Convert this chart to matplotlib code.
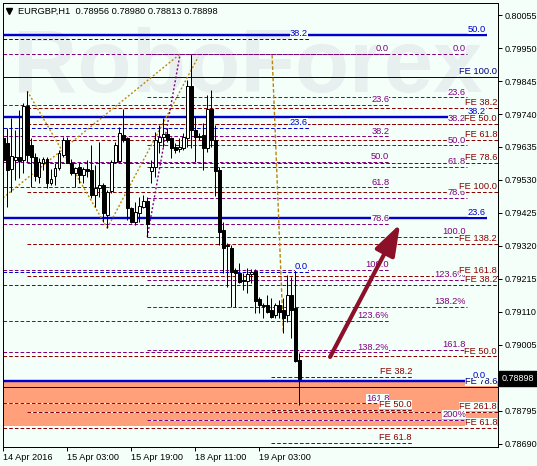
import numpy as np
import matplotlib
matplotlib.use('Agg')
import matplotlib.pyplot as plt
from matplotlib.transforms import blended_transform_factory

plt.rcParams['font.family'] = ['Liberation Sans', 'DejaVu Sans']
plt.rcParams['lines.scale_dashes'] = False

######### EURGBP H1 bars
opens = [0.79664, 0.79648, 0.79565, 0.79594, 0.79603, 0.79594, 0.79765, 0.79641, 0.79603, 0.79540,
         0.79584, 0.79597, 0.79520, 0.79543, 0.79568, 0.79610, 0.79657, 0.79584, 0.79552, 0.79571,
         0.79546, 0.79565, 0.79562, 0.79482, 0.79505, 0.79514, 0.79419, 0.79495, 0.79587, 0.79590,
         0.79673, 0.79664, 0.79441, 0.79396, 0.79425, 0.79444, 0.79463, 0.79559, 0.79571, 0.79651,
         0.79667, 0.79676, 0.79664, 0.79635, 0.79629, 0.79632, 0.79664, 0.79829, 0.79689, 0.79670,
         0.79673, 0.79632, 0.79756, 0.79657, 0.79562, 0.79371, 0.79323, 0.79314, 0.79244, 0.79234,
         0.79212, 0.79209, 0.79231, 0.79240, 0.79151, 0.79132, 0.79132, 0.79116, 0.79100, 0.79132,
         0.79116, 0.79100, 0.79164, 0.79123, 0.78956]
highs = [0.79673, 0.79695, 0.79727, 0.79689, 0.79753, 0.79775, 0.79813, 0.79664, 0.79616, 0.79600,
         0.79603, 0.79603, 0.79565, 0.79584, 0.79625, 0.79667, 0.79667, 0.79597, 0.79571, 0.79584,
         0.79571, 0.79594, 0.79641, 0.79578, 0.79651, 0.79520, 0.79498, 0.79594, 0.79651, 0.79699,
         0.79756, 0.79667, 0.79444, 0.79460, 0.79476, 0.79482, 0.79476, 0.79594, 0.79683, 0.79705,
         0.79727, 0.79695, 0.79667, 0.79648, 0.79664, 0.79680, 0.79848, 0.79931, 0.79730, 0.79680,
         0.79711, 0.79800, 0.79816, 0.79705, 0.79571, 0.79396, 0.79330, 0.79323, 0.79250, 0.79266,
         0.79234, 0.79250, 0.79247, 0.79247, 0.79158, 0.79139, 0.79164, 0.79155, 0.79139, 0.79148,
         0.79155, 0.79228, 0.79221, 0.79244, 0.78980]
lows = [0.79578, 0.79444, 0.79492, 0.79530, 0.79536, 0.79552, 0.79587, 0.79508, 0.79527, 0.79520,
        0.79562, 0.79505, 0.79514, 0.79514, 0.79562, 0.79603, 0.79584, 0.79546, 0.79508, 0.79520,
        0.79520, 0.79540, 0.79473, 0.79444, 0.79476, 0.79396, 0.79377, 0.79489, 0.79584, 0.79587,
        0.79651, 0.79403, 0.79393, 0.79387, 0.79396, 0.79441, 0.79349, 0.79520, 0.79540, 0.79616,
        0.79635, 0.79651, 0.79600, 0.79616, 0.79619, 0.79625, 0.79635, 0.79632, 0.79587, 0.79657,
        0.79562, 0.79619, 0.79635, 0.79479, 0.79323, 0.79234, 0.79190, 0.79126, 0.79126, 0.79202,
        0.79180, 0.79170, 0.79202, 0.79107, 0.79107, 0.79091, 0.79107, 0.79091, 0.79091, 0.79091,
        0.79043, 0.79078, 0.79027, 0.78951, 0.78813]
closes = [0.79594, 0.79562, 0.79606, 0.79603, 0.79590, 0.79765, 0.79610, 0.79603, 0.79543, 0.79587,
          0.79597, 0.79520, 0.79533, 0.79568, 0.79616, 0.79657, 0.79584, 0.79552, 0.79568, 0.79546,
          0.79565, 0.79559, 0.79482, 0.79505, 0.79514, 0.79425, 0.79492, 0.79587, 0.79641, 0.79680,
          0.79657, 0.79441, 0.79396, 0.79428, 0.79447, 0.79463, 0.79390, 0.79571, 0.79657, 0.79667,
          0.79676, 0.79657, 0.79632, 0.79625, 0.79635, 0.79667, 0.79829, 0.79689, 0.79667, 0.79667,
          0.79632, 0.79756, 0.79657, 0.79559, 0.79365, 0.79314, 0.79320, 0.79237, 0.79234, 0.79205,
          0.79209, 0.79231, 0.79237, 0.79145, 0.79132, 0.79129, 0.79110, 0.79094, 0.79132, 0.79110,
          0.79091, 0.79164, 0.79116, 0.78954, 0.78898]

time_tick_bars = [0, 16, 32, 48, 64]
time_tick_labels = ['14 Apr 2016', '15 Apr 03:00', '15 Apr 19:00', '18 Apr 11:00', '19 Apr 03:00']
price_ticks = [0.80055, 0.79950, 0.79845, 0.79740, 0.79635, 0.79530, 0.79425,
               0.79320, 0.79215, 0.79110, 0.79005, 0.78795, 0.78690]
last_price = 0.78898
title = 'EURGBP,H1  0.78956 0.78980 0.78813 0.78898'

######### Fibonacci tools: price at 0% and at 100%, levels shown
fib_ratios = [0.0, 23.6, 38.2, 50.0, 61.8, 78.6, 100.0, 123.6, 138.2, 161.8, 200.0]
fib_text = ['0.0', '23.6', '38.2', '50.0', '61.8', '78.6', '100.0', '123.6%', '138.2%', '161.8', '200%']

blue_thick_p0, blue_thick_p100 = 0.78890, 0.81093
blue_thick_ratios = [0.0, 23.6, 38.2, 50.0]
blue_dash_p0, blue_dash_p100 = 0.79237, 0.81178
blue_dash_ratios = [0.0, 23.6, 38.2]
purple_a_p0, purple_a_p100 = 0.79931, 0.79244
purple_a_ratios = [0.0, 23.6, 38.2, 50.0, 61.8, 78.6, 100.0, 123.6, 138.2, 161.8]
purple_b_p0, purple_b_p100 = 0.79931, 0.79349
purple_b_ratios = [0.0, 23.6, 38.2, 50.0, 61.8, 78.6, 100.0, 123.6, 138.2, 161.8, 200.0]

fe_c_p0, fe_c_p100 = 0.79925, 0.79492
fe_c_ratios = [38.2, 50.0, 61.8, 78.6, 100.0, 138.2, 161.8, 261.8]
fe_d_p0, fe_d_p100 = 0.79244, 0.78353
fe_d_ratios = [38.2, 50.0, 61.8]
fe_e_p0, fe_e_p100 = 0.79933, 0.78004
fe_e_ratios = [38.2, 50.0, 61.8]
navy_prices = [0.79858, 0.78871]
navy_text = ['FE 100.0', 'FE 78.6']

zone_top, zone_bottom = 0.78890, 0.78747

gold_dotted = [[(-0.075, 0.79473), (44.2, 0.79931)],
               [(6, 0.79813), (26, 0.79377)],
               [(26, 0.79377), (48.7, 0.79921)]]
gold_dashed = [(67.2, 0.79928), (70, 0.79043)]
purple_trend = [(36, 0.79349), (44.2, 0.79931)]
arrow_from = (81.7, 0.78967)
arrow_to = (99.2, 0.79390)

BG = '#F5FFFA'
BLUE = '#0000CD'
PURPLE = '#800080'
DRED = '#8B0000'
NAVY = '#000080'
GOLD = '#B8860B'
DASH = (0, (2.6, 1.5))
DOT = (0, (1.4, 1.5))
PX = 0.72  # one pixel in points

fig = plt.figure(figsize=(5.37, 4.66), dpi=100, facecolor=BG)
ax = fig.add_axes([3 / 537, 19 / 466, 495 / 537, 444 / 466])
ax.set_facecolor(BG)
XL, XR = -0.075, 123.675
ax.set_xlim(XL, XR)
ax.set_ylim(0.786804, 0.800932)

ax.text(10 / 495, 355 / 444, 'RoboForex', transform=ax.transAxes, fontsize=64,
        fontweight='bold', color='#E7EFEF', va='baseline', ha='left', zorder=0.5)

ax.axhspan(zone_bottom, zone_top, color='#FFA07A', lw=0, zorder=1)


def levels(p0, p100, ratios):
    return [p0 + r / 100.0 * (p100 - p0) for r in ratios]


def draw_lines(prices, x0, x1, color, ls, lw):
    if ls != 'solid':
        ax.hlines(prices, x0, x1, colors=BG, lw=lw, zorder=2)
    ax.hlines(prices, x0, x1, colors=color, linestyles=ls, lw=lw, zorder=2.2)


def draw_labels(prices, texts, x_end, color, z):
    for p, t in zip(prices, texts):
        ax.annotate(t, xy=(x_end, p), xytext=(-0.7, 1.9), textcoords='offset points',
                    ha='right', va='baseline', fontsize=6.7, color=color, zorder=z,
                    annotation_clip=False,
                    bbox=dict(boxstyle='square,pad=0', fc=BG, ec='none'))


def ftext(ratios):
    return [fib_text[fib_ratios.index(r)] for r in ratios]


bt = levels(blue_thick_p0, blue_thick_p100, blue_thick_ratios)
bd = levels(blue_dash_p0, blue_dash_p100, blue_dash_ratios)
pa = levels(purple_a_p0, purple_a_p100, purple_a_ratios)
pb = levels(purple_b_p0, purple_b_p100, purple_b_ratios)
fc = levels(fe_c_p0, fe_c_p100, fe_c_ratios)
fd = levels(fe_d_p0, fe_d_p100, fe_d_ratios)
fe = levels(fe_e_p0, fe_e_p100, fe_e_ratios)

draw_lines(navy_prices, XL, XR, NAVY, 'solid', PX)
draw_lines(pa, XL, 96.7, PURPLE, DASH, PX)
draw_lines(pb, 35.9, 115.9, PURPLE, DASH, PX)
draw_lines(fe, XL, XR, DRED, DASH, PX)
draw_lines(fc, 5.9, XR, DRED, DASH, PX)
draw_lines(fd, 66.9, 102.4, DRED, DASH, PX)
draw_lines(bd, XL, 76.4, BLUE, DASH, PX)
draw_lines(bt, XL, 120.9, BLUE, 'solid', 2.4 * PX)

for seg in gold_dotted:
    ax.plot(*zip(*seg), color=GOLD, lw=1.0, ls=DOT, zorder=2.5)
ax.plot(*zip(*gold_dashed), color=GOLD, lw=1.0, ls=DASH, zorder=2.5)
ax.plot(*zip(*purple_trend), color=PURPLE, lw=1.0, ls=DOT, zorder=2.5)

# candles
o, h, l, c = (np.array(v) for v in (opens, highs, lows, closes))
x = np.arange(len(o))
up = c >= o
ax.vlines(x, l, h, color='black', lw=PX, zorder=4)
lo_body = np.minimum(o, c)
hb = np.abs(c - o)
ax.bar(x[up], hb[up], bottom=lo_body[up], width=0.6, color='white',
       edgecolor='black', lw=PX, zorder=4.1)
ax.bar(x[~up], hb[~up], bottom=lo_body[~up], width=0.6, color='black',
       edgecolor='black', lw=PX, zorder=4.1)

# level labels (later ones sit on top)
draw_labels(pa, ftext(purple_a_ratios), 96.7, PURPLE, 5.0)
draw_labels(navy_prices, navy_text, XR, NAVY, 5.1)
draw_labels(bt, ftext(blue_thick_ratios), 120.9, BLUE, 5.2)
draw_labels(bd, ftext(blue_dash_ratios), 76.4, BLUE, 5.3)
draw_labels(pb, ftext(purple_b_ratios), 115.9, PURPLE, 5.4)
draw_labels(fe, ['FE %.1f' % r for r in fe_e_ratios], XR, DRED, 5.5)
draw_labels(fc, ['FE %.1f' % r for r in fe_c_ratios], XR, DRED, 5.6)
draw_labels(fd, ['FE %.1f' % r for r in fe_d_ratios], 102.4, DRED, 5.7)

ax.annotate('', xy=arrow_to, xytext=arrow_from, zorder=6,
            arrowprops=dict(arrowstyle='-|>,head_length=1.9,head_width=0.65',
                            color='#8B1028', lw=3.0, shrinkA=0, shrinkB=0,
                            mutation_scale=10))

# axes
for sp in ax.spines.values():
    sp.set_linewidth(PX)
    sp.set_color('black')
ax.yaxis.tick_right()
ax.set_yticks(price_ticks)
ax.set_yticklabels(['%.5f' % p for p in price_ticks])
ax.tick_params(axis='y', direction='out', length=2.9, width=PX, pad=2.2, labelsize=6.5)
ax.set_xticks(time_tick_bars)
ax.set_xticklabels(time_tick_labels)
ax.tick_params(axis='x', direction='out', length=2.9, width=PX, pad=1.5, labelsize=6.6)
for lbl in ax.get_xticklabels():
    lbl.set_ha('left')

tr = blended_transform_factory(ax.transAxes, ax.transData)
ax.annotate('%.5f' % last_price, xy=(1.0, last_price), xycoords=tr, xytext=(2.7, 0),
            textcoords='offset points', ha='left', va='center', fontsize=6.5, color='white',
            annotation_clip=False, zorder=7,
            bbox=dict(boxstyle='square,pad=0.3', fc='black', ec='black'))

ax.plot([5.5 / 495], [1 - 8 / 444], marker='v', ms=4.5, color='black',
        transform=ax.transAxes, clip_on=False, zorder=7)
ax.text(15 / 495, 1 - 8 / 444, title, transform=ax.transAxes, fontsize=6.7,
        va='center', ha='left', zorder=7)

fig.savefig('out.png', dpi=100, facecolor=BG)
